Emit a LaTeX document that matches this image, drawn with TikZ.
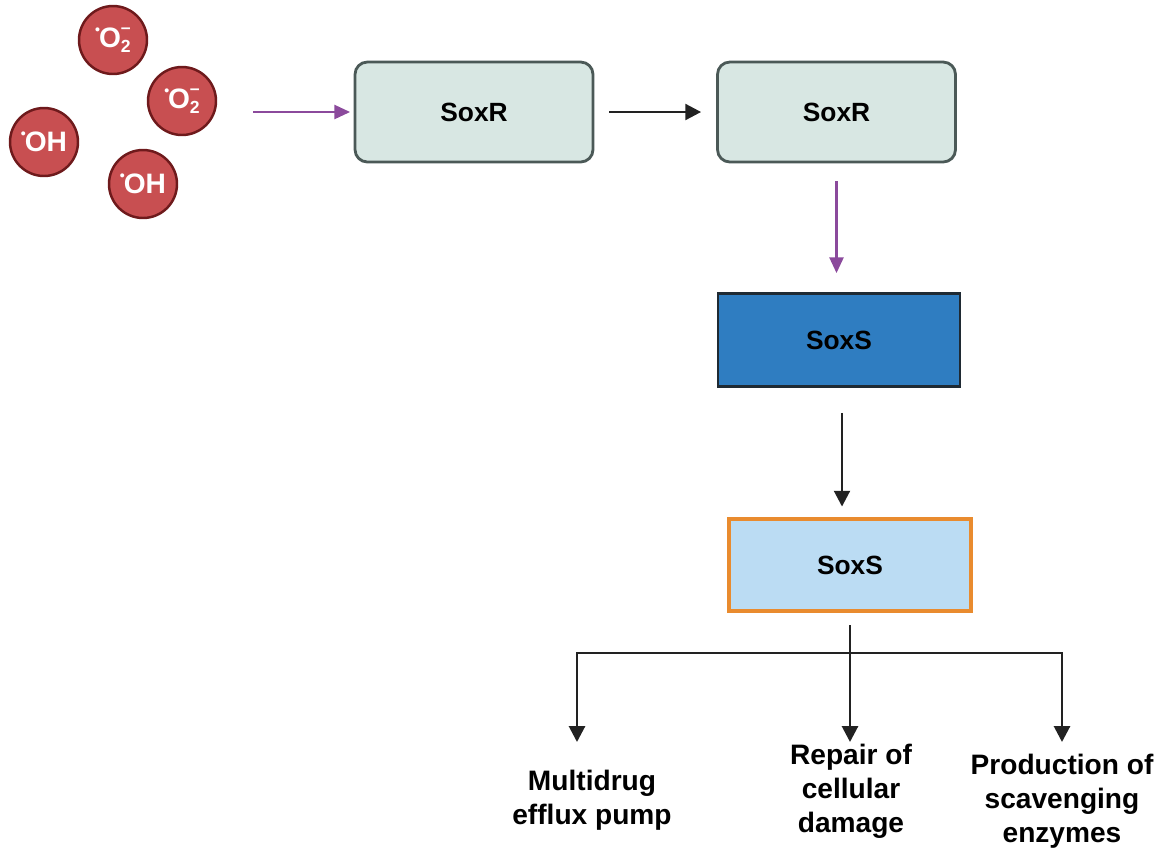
\documentclass[tikz,border=0pt]{standalone}
\usepackage{fontspec}
\setmainfont{Liberation Sans}
\usetikzlibrary{arrows.meta,positioning}

\definecolor{rosfill}{HTML}{C84F51}
\definecolor{rosline}{HTML}{6E1A1C}
\definecolor{soxrfill}{HTML}{D8E7E3}
\definecolor{soxrline}{HTML}{4B5957}
\definecolor{soxsfill}{HTML}{2F7DC1}
\definecolor{soxsline}{HTML}{1F2A33}
\definecolor{activefill}{HTML}{BBDCF3}
\definecolor{activeline}{HTML}{E98B2E}
\definecolor{signal}{HTML}{8B4A9C}
\definecolor{ink}{HTML}{222222}

% radical labels
\newcommand{\rdot}{\raisebox{7.5pt}{\fontsize{8}{8}\selectfont\textbullet}\kern-0.6pt}
\newcommand{\superox}{\rdot O\rlap{\raisebox{8pt}{\fontsize{10}{10}\selectfont –}}%
  \raisebox{-2.5pt}{\fontsize{10}{10}\selectfont 2}}
\newcommand{\hydrox}{\rdot OH}

\begin{document}
\begin{tikzpicture}[x=0.02cm,y=-0.02cm,
  ros/.style={circle,draw=rosline,fill=rosfill,line width=1.4pt,
    minimum size=1.36cm,inner sep=0pt,text=white,
    font=\fontsize{16}{16}\selectfont\bfseries},
  sensor/.style={rectangle,rounded corners=7pt,draw=soxrline,fill=soxrfill,
    line width=1.6pt,minimum width=4.76cm,minimum height=2cm,
    font=\fontsize{15}{15}\selectfont\bfseries},
  regul/.style={rectangle,draw=soxsline,fill=soxsfill,line width=1.6pt,
    minimum width=4.84cm,minimum height=1.86cm,
    font=\fontsize{15}{15}\selectfont\bfseries},
  active/.style={rectangle,draw=activeline,fill=activefill,line width=2.8pt,
    minimum width=4.84cm,minimum height=1.84cm,
    font=\fontsize{15}{15}\selectfont\bfseries},
  outcome/.style={align=center,inner sep=0pt,
    font=\fontsize{16}{19.4}\selectfont\bfseries},
  flow/.style={draw=ink,line width=1.6pt,-{Triangle[length=9pt,width=9pt]}},
  trigger/.style={draw=signal,line width=1.4pt,-{Triangle[length=9pt,width=8pt]}}]

\useasboundingbox (0,0) rectangle (1162,850);

% reactive oxygen species
\node[ros] (ros1) at (113,40) {\superox};
\node[ros] (ros2) at (182,101) {\superox};
\node[ros] (ros3) at (44,142) {\hydrox};
\node[ros] (ros4) at (143,184) {\hydrox};

\node[sensor] (soxr) at (474,112) {SoxR};
\node[sensor] (soxrox) at (836.5,112) {SoxR};
\node[regul] (soxs) at (839,340) {SoxS};
\node[active] (soxsp) at (850,565) {SoxS};

\node[outcome] (pump) at (592,800) {Multidrug\\efflux pump};
\node[outcome] (repair) at (851,791) {Repair of\\cellular\\damage};
\node[outcome] (enzymes) at (1062,801) {Production of\\scavenging\\enzymes};

\coordinate (stress) at (253,112);
\coordinate (fork) at (850,653);
\coordinate (tippump) at (577,742);
\coordinate (tiprepair) at (850,742);
\coordinate (tipenz) at (1062,742);

% activation chain
\draw[trigger,shorten >=2pt] (stress) -- (soxr);
\draw[flow,shorten <=0.3cm,shorten >=0.3cm] (soxr) -- (soxrox);
\draw[trigger,shorten <=0.36cm,shorten >=0.38cm] (soxrox.south) -- (soxrox.south |- soxs.north);
\draw[flow,shorten <=0.5cm,shorten >=0.2cm] ([xshift=0.06cm]soxs.south) -- ([xshift=0.06cm]soxs.south |- soxsp.north);

% targets
\draw[flow,shorten <=0.24cm] (soxsp.south) -- (tiprepair);
\draw[flow] (fork) -| (tippump);
\draw[flow] (fork) -| (tipenz);

\end{tikzpicture}
\end{document}
